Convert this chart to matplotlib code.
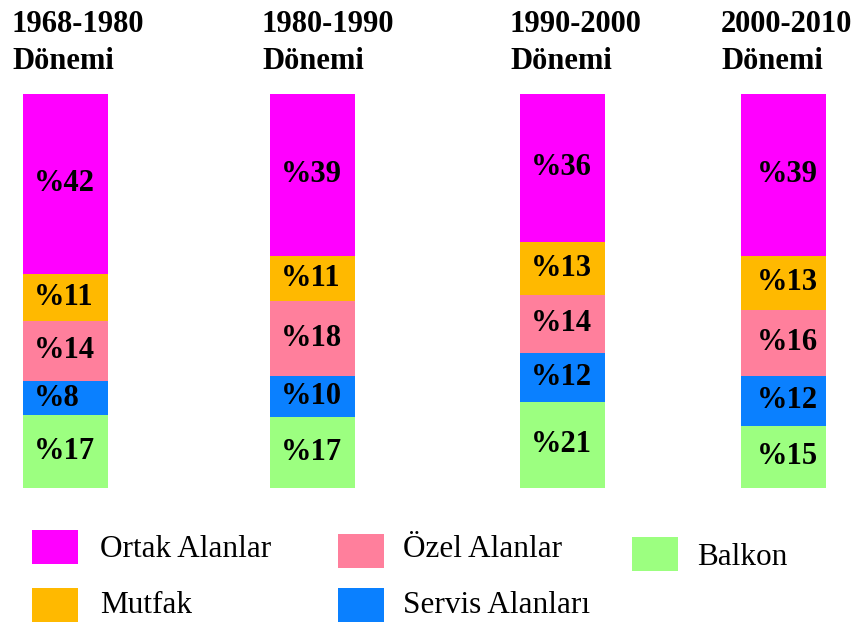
import matplotlib
matplotlib.use("Agg")
import matplotlib.pyplot as plt
from matplotlib.patches import Rectangle

plt.rcParams['font.family'] = ['Liberation Serif', 'DejaVu Serif']

# data
periods = ["1968-1980", "1980-1990", "1990-2000", "2000-2010"]
# stacked from top to bottom in the picture
categories = ["Ortak Alanlar", "Mutfak", "Özel Alanlar", "Servis Alanları", "Balkon"]
ortak = [42, 39, 36, 39]
mutfak = [11, 11, 13, 13]
ozel = [14, 18, 14, 16]
servis = [8, 10, 12, 12]
balkon = [17, 17, 21, 15]
colors = ["#FF00FF", "#FFB900", "#FF7F9C", "#0A80FF", "#9CFF80"]

# layout (pixels of an 858x624 canvas)
W, H = 858, 624
bar_x = [65.5, 312.5, 562.5, 783.5]
bar_w = 85
bar_top, bar_bottom = 94, 488
title_x = [12, 262, 510, 721]
label_pad = [11, 11, 11, 16]

fig = plt.figure(figsize=(W / 100, H / 100), dpi=100)
ax = fig.add_axes([0, 1 - bar_bottom / H, 1, (bar_bottom - bar_top) / H])
ax.set_xlim(0, W)
ax.set_ylim(0, 1)
ax.axis('off')

series = [ortak, mutfak, ozel, servis, balkon]
totals = [sum(s[i] for s in series) for i in range(len(periods))]

# draw bottom-up: Balkon first, Ortak Alanlar last
bottoms = [0.0] * len(periods)
for values, color in zip(series[::-1], colors[::-1]):
    shares = [v / t for v, t in zip(values, totals)]
    ax.bar(bar_x, shares, width=bar_w, bottom=bottoms, color=color,
           edgecolor='none')
    for i, (s, v) in enumerate(zip(shares, values)):
        ax.text(bar_x[i] - bar_w / 2 + label_pad[i], bottoms[i] + s / 2,
                "%" + str(v), ha='left', va='center', fontsize=22,
                fontweight='bold', color='black')
    bottoms = [b + s for b, s in zip(bottoms, shares)]

# period titles
for x, p in zip(title_x, periods):
    fig.text(x / W, 1 - 10 / H, p + "\nDönemi", ha='left', va='top',
             fontsize=22, fontweight='bold', linespacing=1.35)

# legend (hand placed)
legend_items = [
    (0, 32, 530, 100, 557),
    (2, 338, 534, 403, 557),
    (4, 632, 537, 697, 565),
    (1, 32, 588, 100, 613),
    (3, 338, 588, 403, 613),
]
for idx, bx, by, tx, ty in legend_items:
    fig.add_artist(Rectangle((bx / W, 1 - (by + 34) / H), 46 / W, 34 / H,
                             transform=fig.transFigure,
                             facecolor=colors[idx], edgecolor='none'))
    fig.text(tx / W, 1 - ty / H, categories[idx], ha='left', va='baseline',
             fontsize=22.5)

fig.savefig("out.png", dpi=100)
